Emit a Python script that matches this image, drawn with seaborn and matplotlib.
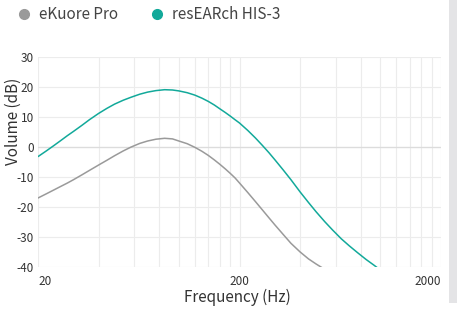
import numpy as np
import pandas as pd
import matplotlib
matplotlib.use("Agg")
import matplotlib.pyplot as plt
from matplotlib.lines import Line2D
from matplotlib.patches import Rectangle
from matplotlib.ticker import FixedLocator, NullFormatter
import seaborn as sns

# 그림에서 읽어낸 값 (주파수 Hz, 볼륨 dB)
freq_his = [20, 22, 24, 26, 28, 30, 33, 36, 40, 44, 48, 53, 58, 64, 70, 77, 85, 93,
            100, 110, 120, 130, 140, 150, 160, 170, 180, 190, 200, 220, 240, 260, 280,
            300, 330, 360, 400, 440, 480, 530, 580, 640, 700, 770, 850, 930, 1000]
vol_his = [-3.2, -1.3, 0.5, 2.2, 3.8, 5.2, 7.2, 9.1, 11.2, 12.9, 14.3, 15.6, 16.6, 17.6,
           18.3, 18.8, 19.1, 19.0, 18.7, 18.1, 17.3, 16.3, 15.2, 14.0, 12.7, 11.5, 10.3,
           9.1, 8.0, 5.5, 3.0, 0.5, -1.9, -4.3, -7.7, -10.9, -15.0, -18.5, -21.6, -24.9,
           -27.7, -30.6, -32.9, -35.2, -37.5, -39.4, -41.0]
freq_ekuore = [20, 22, 24, 26, 28, 30, 33, 36, 40, 44, 48, 53, 58, 64, 70, 77, 85, 93,
               100, 110, 120, 130, 140, 150, 160, 170, 180, 190, 200, 220, 240, 260, 280,
               300, 330, 360, 400, 440, 480, 530]
vol_ekuore = [-17.0, -15.6, -14.3, -13.1, -12.0, -10.9, -9.3, -7.8, -6.0, -4.4, -2.9, -1.3,
              0.0, 1.2, 2.0, 2.6, 2.9, 2.7, 2.0, 1.1, -0.1, -1.4, -2.8, -4.3, -5.8, -7.3,
              -8.8, -10.3, -12.0, -15.2, -18.2, -21.0, -23.6, -26.0, -29.2, -32.1, -35.0,
              -37.3, -39.0, -40.8]

series_names = ["eKuore Pro", "resEARch HIS-3"]
series_colors = ["#9a9a9a", "#12a99a"]
y_ticks = [-40, -30, -20, -10, 0, 10, 20, 30]
x_labels = [20, 200, 2000]
x_minor = list(range(40, 200, 20)) + list(range(400, 2000, 200))

df = pd.concat([
    pd.DataFrame({"freq": freq_ekuore, "vol": vol_ekuore, "name": series_names[0]}),
    pd.DataFrame({"freq": freq_his, "vol": vol_his, "name": series_names[1]}),
])

sns.set_style("white")
plt.rcParams["font.family"] = ["Noto Sans CJK KR", "DejaVu Sans"]

fig = plt.figure(figsize=(4.57, 3.09), dpi=100)
ax = fig.add_axes([38 / 457, 1 - 267 / 309, 403 / 457, 210 / 309])

sns.lineplot(data=df, x="freq", y="vol", hue="name", palette=dict(zip(series_names, series_colors)),
             linewidth=1.1, legend=False, ax=ax, zorder=3)

ax.set_xscale("log")
ax.set_xlim(20, 2000)
ax.set_ylim(-40, 30)
ax.xaxis.set_major_locator(FixedLocator(x_labels))
ax.xaxis.set_minor_locator(FixedLocator(x_minor))
ax.xaxis.set_minor_formatter(NullFormatter())
ax.set_xticks(x_labels, [str(v) for v in x_labels])
ax.set_yticks(y_ticks, [str(v) for v in y_ticks])
ax.tick_params(axis="both", which="both", length=0, labelsize=8.5, colors="#333333")
ax.tick_params(axis="x", pad=6)
ax.tick_params(axis="y", pad=3)
xt = ax.get_xticklabels()
xt[0].set_ha("left")
xt[-1].set_ha("right")
ax.grid(True, which="both", color="#ececec", linewidth=0.8)
ax.axhline(0, color="#dcdcdc", linewidth=0.9, zorder=1)
for s in ax.spines.values():
    s.set_visible(False)

ax.set_xlabel("Frequency (Hz)", fontsize=11, color="#333333", va="center", ha="center")
ax.set_ylabel("Volume (dB)", fontsize=11, color="#333333", va="center", ha="center")
ax.xaxis.set_label_coords(0.495, -0.143)
ax.yaxis.set_label_coords(-0.062, 0.695)

handles = [Line2D([], [], marker="o", linestyle="", markersize=7, color=c) for c in series_colors]
fig.legend(handles, series_names, loc="upper left", bbox_to_anchor=(16 / 457, 1 - 6 / 309), ncol=2,
           frameon=False, fontsize=11, handlelength=1.0, handletextpad=0.5, columnspacing=2.05,
           borderpad=0, borderaxespad=0, labelcolor="#444444")

# 오른쪽 스크롤바
fig.patches.append(Rectangle((449 / 457, 6 / 309), 8 / 457, 303 / 309, transform=fig.transFigure,
                             facecolor="#e4e4e6", edgecolor="none"))

fig.savefig("out.png", dpi=100)
